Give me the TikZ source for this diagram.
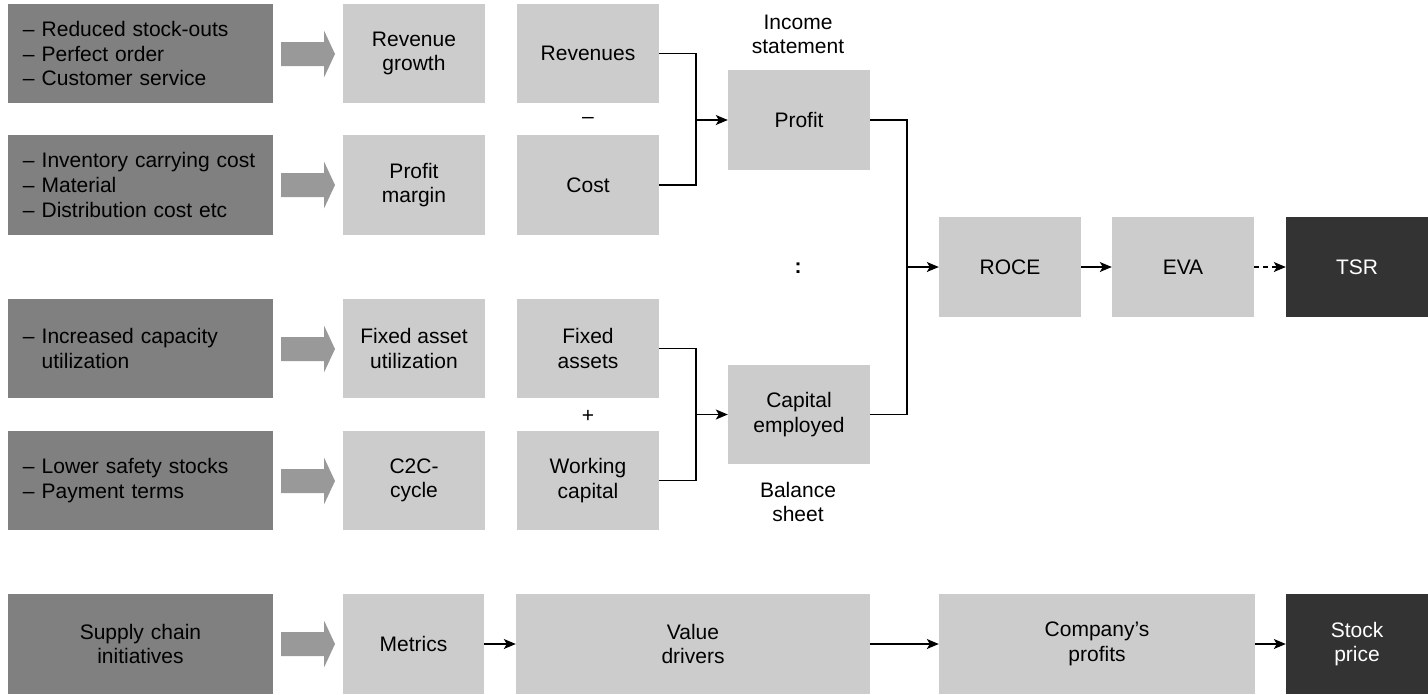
\documentclass[tikz,border=0pt]{standalone}
\usepackage{fontspec}
\setmainfont{Liberation Sans}
\usetikzlibrary{arrows.meta}
\definecolor{dgray}{gray}{0.5}
\definecolor{lgray}{gray}{0.8}
\definecolor{agray}{gray}{0.6}
\definecolor{kgray}{gray}{0.2}
\begin{document}
\begin{tikzpicture}[x=1pt,y=-1pt,
 every node/.style={font=\fontsize{21}{24.6}\selectfont, align=center, inner sep=0pt},
 dbox/.style={fill=dgray, minimum width=265pt, minimum height=99pt, text width=235pt, align=left},
 lbox/.style={fill=lgray, minimum width=142pt, minimum height=99pt},
 kbox/.style={fill=kgray, text=white, minimum width=142pt, minimum height=100pt},
 conn/.style={line width=1.2pt, -{Stealth[length=12pt,width=10pt,inset=3pt]}},
 link/.style={line width=1.2pt},
 barrow/.pic={\fill[agray] (-27,-12)--(16,-12)--(16,-23.5)--(27,0)--(16,23.5)--(16,12)--(-27,12)--cycle;}
]
\useasboundingbox (0,0) rectangle (1428,694);

% left column
\node[dbox] (d1) at (140.5,53.5) {– Reduced stock-outs\\– Perfect order\\– Customer service};
\node[dbox, minimum height=100pt] (d2) at (140.5,185) {– Inventory carrying cost\\– Material\\– Distribution cost etc};
\node[dbox] (d3) at (140.5,348.5) {– Increased capacity\\\hphantom{– }utilization};
\node[dbox] (d4) at (140.5,480.5) {– Lower safety stocks\\– Payment terms};
\node[dbox, minimum height=100pt, align=center] (d5) at (140.5,644) {Supply chain\\initiatives};

% block arrows
\pic at (308,54) {barrow};
\pic at (308,185) {barrow};
\pic at (308,349) {barrow};
\pic at (308,481) {barrow};
\pic at (308,644) {barrow};

% metrics column
\node[lbox] (rg) at (414,53.5) {Revenue\\growth};
\node[lbox, minimum height=100pt] (pm) at (414,185) {Profit\\margin};
\node[lbox] (fau) at (414,348.5) {Fixed asset\\utilization};
\node[lbox] (c2c) at (414,480.5) {C2C-\\cycle};

% value driver column
\node[lbox] (rev) at (588,53.5) {Revenues};
\node[lbox, minimum height=100pt] (cost) at (588,185) {Cost};
\node[lbox] (fa) at (588,348.5) {Fixed\\assets};
\node[lbox] (wc) at (588,480.5) {Working\\capital};
\node (minus) at (588,120) {–};
\node (plus) at (588,416) {+};

% profit / capital
\node[lbox, minimum height=100pt] (profit) at (799,120) {Profit};
\node[lbox] (cap) at (799,414.5) {Capital\\employed};
\node (inc) at (798,34.5) {Income\\statement};
\node (bal) at (798,502) {Balance\\sheet};
\node (colon) at (798,268) {\textbf{:}};

% right chain
\node[lbox, minimum height=100pt] (roce) at (1010,267) {ROCE};
\node[lbox, minimum height=100pt] (eva) at (1183,267) {EVA};
\node[kbox] (tsr) at (1357,267) {TSR};

% bottom row
\node[lbox, minimum width=141pt, minimum height=100pt] (met) at (413.5,644) {Metrics};
\node[lbox, minimum width=354pt, minimum height=100pt] (val) at (693,644) {Value\\drivers};
\node[lbox, minimum width=316pt, minimum height=100pt] (comp) at (1097,644) {Company’s\\profits};
\node[kbox] (stock) at (1357,644) {Stock\\price};

% junctions
\coordinate (j1) at (696,120);
\coordinate (j2) at (696,414.5);
\coordinate (j3) at (907,267);

\draw[link] (rev.east) -| (j1) |- (cost.east);
\draw[conn] (j1) -- (profit.west);
\draw[link] (fa.east) -| (j2) |- (wc.east);
\draw[conn] (j2) -- (cap.west);
\draw[link] (profit.east) -| (j3) |- (cap.east);
\draw[conn] (j3) -- (roce.west);
\draw[conn] (roce) -- (eva);
\draw[conn, dash pattern=on 5pt off 4pt] (eva) -- (tsr);

\draw[conn] (met) -- (val);
\draw[conn] (val) -- (comp);
\draw[conn] (comp) -- (stock);
\end{tikzpicture}
\end{document}
